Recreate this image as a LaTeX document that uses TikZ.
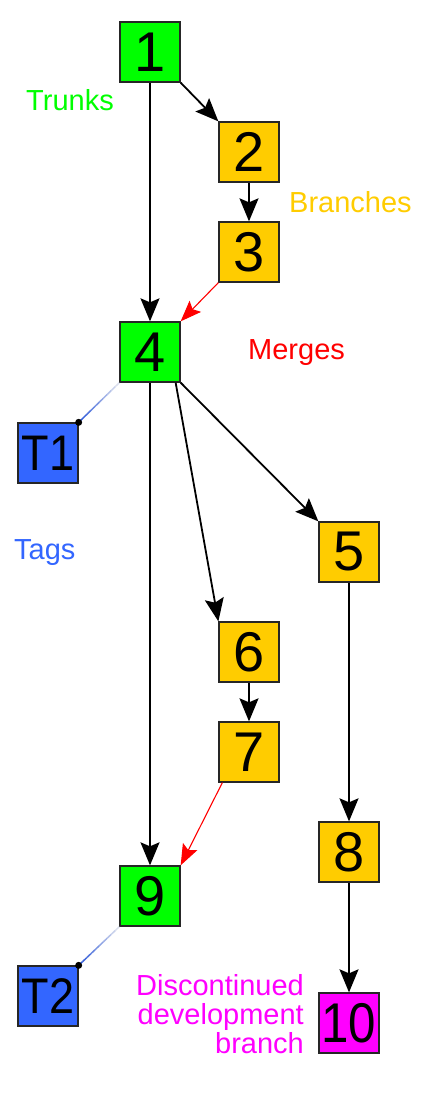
\documentclass[tikz,border=0pt]{standalone}
\usepackage{fontspec}
\setmainfont{Liberation Sans}
\usetikzlibrary{arrows.meta,calc}
\definecolor{trunkgreen}{RGB}{0,255,0}
\definecolor{branchyellow}{RGB}{255,204,0}
\definecolor{tagblue}{RGB}{51,102,255}
\definecolor{deadmagenta}{RGB}{255,0,255}
\definecolor{mergered}{RGB}{255,0,0}
\colorlet{fadegray}{black!6}
\colorlet{tagline}{tagblue!85!black}

\begin{document}
\begin{tikzpicture}[x=1pt,y=-1pt,
    rev/.style={draw=black!85,line width=1.3pt,minimum size=60pt,inner sep=0pt,font=\fontsize{56}{56}\selectfont},
    trunk/.style={rev,fill=trunkgreen},
    branch/.style={rev,fill=branchyellow},
    tagbox/.style={rev,fill=tagblue,font=\fontsize{50}{50}\selectfont},
    dead/.style={rev,fill=deadmagenta},
    legend/.style={inner sep=0pt,font=\fontsize{29}{29}\selectfont},
    commit/.style={line width=1.8pt,-{Stealth[length=23pt,width=19pt,inset=4pt]}},
    merge/.style={mergered,line width=1.1pt,-{Stealth[length=21pt,width=16pt,inset=4pt]}}]
  \useasboundingbox (0,0) rectangle (428,1094);
  % revisions
  \node[trunk] (n1) at (150,52) {1};
  \node[branch] (n2) at (249,152) {2};
  \node[branch] (n3) at (249,252) {3};
  \node[trunk] (n4) at (150,352) {4};
  \node[tagbox] (t1) at (48,453) {\scalebox{0.9}[1]{T1}};
  \node[branch] (n5) at (349,552) {5};
  \node[branch] (n6) at (249,652) {6};
  \node[branch] (n7) at (249,752) {7};
  \node[branch] (n8) at (349,852) {8};
  \node[trunk] (n9) at (150,896) {9};
  \node[tagbox] (t2) at (48,996) {\scalebox{0.9}[1]{T2}};
  \node[dead] (n10) at (349,1023) {\scalebox{0.88}[1]{10}};
  % history
  \draw[commit] (n1.south east) -- (n2.north west);
  \draw[commit] (n1.south) -- (n4.north);
  \draw[commit] (n2) -- (n3);
  \draw[merge] (n3.south west) -- (n4.north east);
  \draw[commit] (n4.south east) -- (n5.north west);
  \draw[commit] ([xshift=-5pt]n4.south east) -- (n6.north west);
  \draw[commit] (n6) -- (n7);
  \draw[commit] (n4) -- (n9);
  \draw[merge] ([xshift=4pt]n7.south west) -- (n9.north east);
  \draw[commit] (n5) -- (n8);
  \draw[commit] (n8) -- (n10);
  % tags, fading in towards the tag
  \foreach \a/\b in {n4/t1,n9/t2} {
    \foreach \i in {0,...,9} {
      \pgfmathtruncatemacro\p{10*\i+10}
      \pgfmathsetmacro\s{\i/10}
      \pgfmathsetmacro\e{(\i+1)/10}
      \draw[tagline!\p!fadegray,line width=1.5pt]
        ($(\a.south west)!\s!(\b.north east)$) -- ($(\a.south west)!\e!(\b.north east)$);
    }
    \fill (\b.north east) circle (3.5pt);
  }
  % legend
  \node[legend,text=trunkgreen,anchor=base west] (trunks) at (26,111) {Trunks};
  \node[legend,text=branchyellow,anchor=base west] (branches) at (289,212) {Branches};
  \node[legend,text=mergered,anchor=base west] (merges) at (248,359) {Merges};
  \node[legend,text=tagblue,anchor=base west] (tags) at (14,559) {Tags};
  \node[legend,text=deadmagenta,align=right,anchor=east] (deadtext) at (304,1014)
    {Discontinued\\development\\branch};
\end{tikzpicture}
\end{document}
